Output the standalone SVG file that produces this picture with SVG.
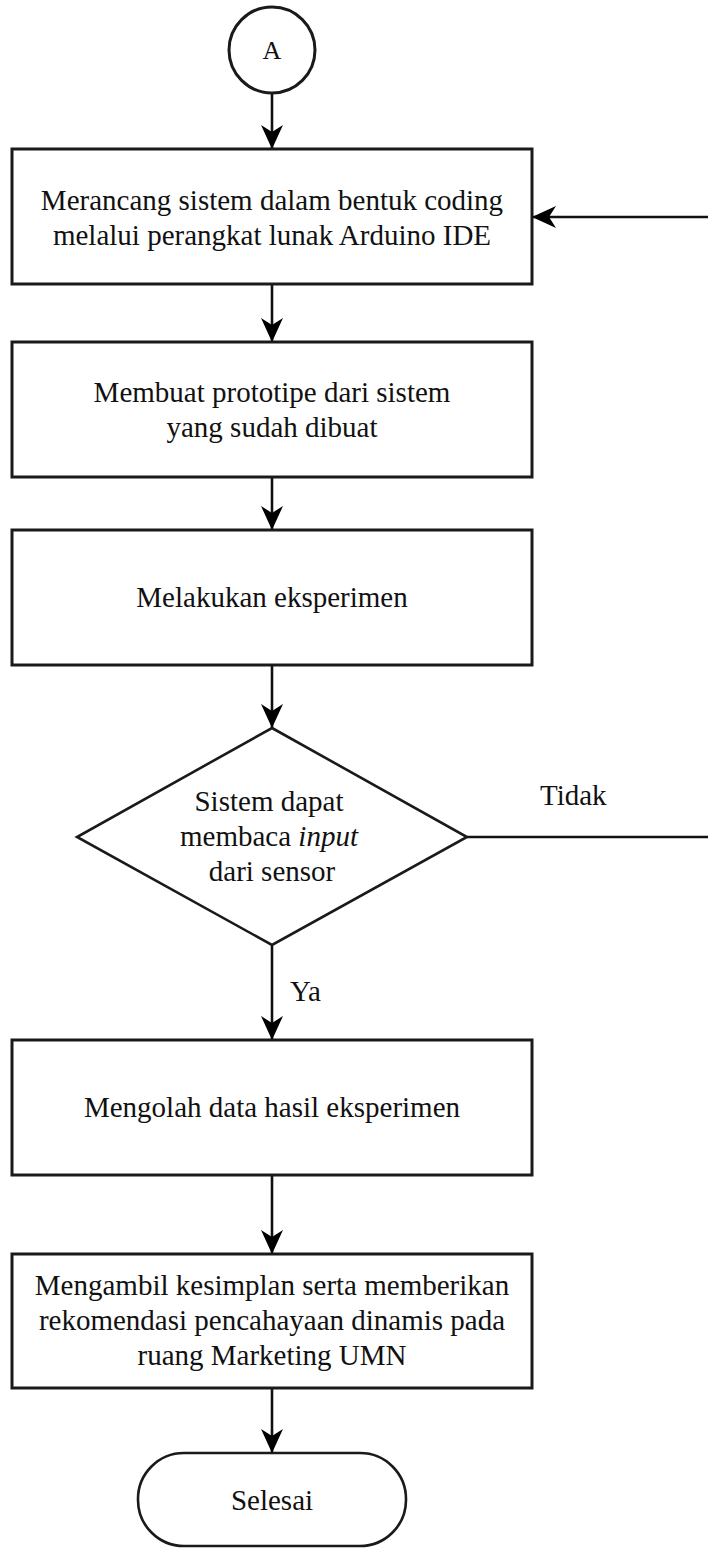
<svg xmlns="http://www.w3.org/2000/svg" width="708" height="1548" viewBox="0 0 708 1548">
<style>
.shape{fill:#fff;stroke:#1a1a1a;stroke-width:3}
.line{fill:none;stroke:#111;stroke-width:2.6}
.t{font-family:"Liberation Serif","Times New Roman",serif;font-size:29px;fill:#111;text-anchor:middle}
.l{font-family:"Liberation Serif","Times New Roman",serif;font-size:29px;fill:#111}
</style>
<defs>
<marker id="arr" markerUnits="userSpaceOnUse" markerWidth="24" markerHeight="22" viewBox="0 0 24 22" refX="24" refY="11" orient="auto">
<path d="M0,0 L24,11 L0,22 L7,11 Z" fill="#000"/>
</marker>
</defs>
<rect width="708" height="1548" fill="#fff"/>
<g id="connectors">
<line class="line" x1="272" y1="93" x2="272" y2="149" marker-end="url(#arr)"/>
<line class="line" x1="272" y1="284" x2="272" y2="342" marker-end="url(#arr)"/>
<line class="line" x1="272" y1="477" x2="272" y2="530" marker-end="url(#arr)"/>
<line class="line" x1="272" y1="665" x2="272" y2="728" marker-end="url(#arr)"/>
<line class="line" x1="272" y1="945" x2="272" y2="1040" marker-end="url(#arr)"/>
<line class="line" x1="272" y1="1175" x2="272" y2="1254" marker-end="url(#arr)"/>
<line class="line" x1="272" y1="1388" x2="272" y2="1453" marker-end="url(#arr)"/>
<line class="line" x1="467" y1="837" x2="712" y2="837"/>
<line class="line" x1="712" y1="217" x2="532" y2="217" marker-end="url(#arr)"/>
<text class="l" x="540" y="805">Tidak</text>
<text class="l" x="290" y="1001">Ya</text>
</g>
<g id="start">
<circle class="shape" cx="272" cy="50" r="43"/>
<text class="t" x="272" y="59" style="font-size:26px">A</text>
</g>
<g id="step1">
<rect class="shape" x="12" y="149" width="520" height="135"/>
<text class="t" x="272" y="210">Merancang sistem dalam bentuk coding</text>
<text class="t" x="272" y="245">melalui perangkat lunak Arduino IDE</text>
</g>
<g id="step2">
<rect class="shape" x="12" y="342" width="520" height="135"/>
<text class="t" x="272" y="402">Membuat prototipe dari sistem</text>
<text class="t" x="272" y="437">yang sudah dibuat</text>
</g>
<g id="step3">
<rect class="shape" x="12" y="530" width="520" height="135"/>
<text class="t" x="272" y="607">Melakukan eksperimen</text>
</g>
<g id="decision">
<polygon class="shape" points="272,728 467,837 272,945 77,837" style="stroke-width:2.6"/>
<text class="t" x="269" y="811">Sistem dapat</text>
<text class="t" x="269" y="846">membaca <tspan font-style="italic">input</tspan></text>
<text class="t" x="272" y="881">dari sensor</text>
</g>
<g id="step4">
<rect class="shape" x="12" y="1040" width="520" height="135"/>
<text class="t" x="272" y="1117">Mengolah data hasil eksperimen</text>
</g>
<g id="step5">
<rect class="shape" x="12" y="1254" width="520" height="134"/>
<text class="t" x="272" y="1295">Mengambil kesimplan serta memberikan</text>
<text class="t" x="272" y="1330">rekomendasi pencahayaan dinamis pada</text>
<text class="t" x="272" y="1365">ruang Marketing UMN</text>
</g>
<g id="end">
<rect class="shape" x="138" y="1453" width="268" height="93" rx="46" ry="46" style="stroke-width:2.6"/>
<text class="t" x="272" y="1510">Selesai</text>
</g>
</svg>
